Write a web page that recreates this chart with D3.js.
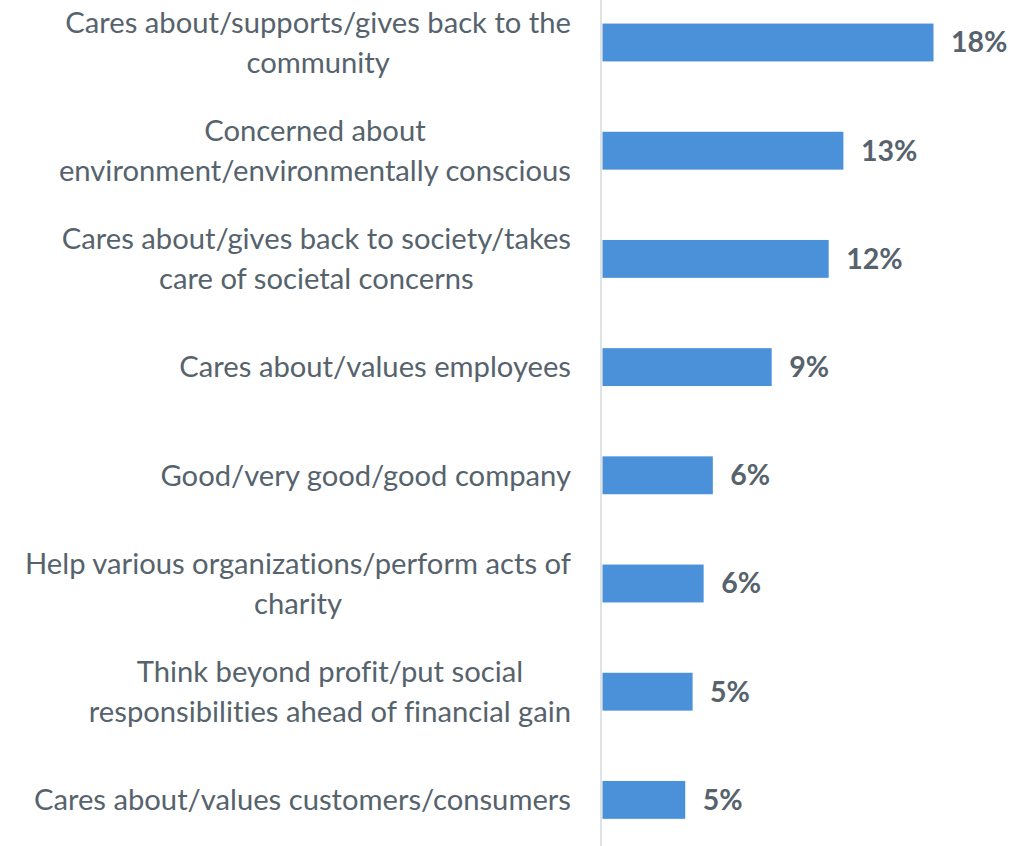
<!DOCTYPE html>
<html>
<head>
<meta charset="utf-8">
<script src="https://cdn.jsdelivr.net/npm/d3@7"></script>
<style>
  html, body { margin: 0; padding: 0; background: #ffffff; }
  svg { display: block; }
  text { font-variant-ligatures: none; }
</style>
</head>
<body>
<svg id="chart" width="1018" height="846"></svg>
<script>
// Category labels ("\n" marks where the label wraps)
const categories = [
  "Cares about/supports/gives back to the\ncommunity",
  "Concerned about\nenvironment/environmentally conscious",
  "Cares about/gives back to society/takes\ncare of societal concerns",
  "Cares about/values employees",
  "Good/very good/good company",
  "Help various organizations/perform acts of\ncharity",
  "Think beyond profit/put social\nresponsibilities ahead of financial gain",
  "Cares about/values customers/consumers"
];
// Share of mentions, percent
const values = [18.0, 13.1, 12.3, 9.2, 6.0, 5.5, 4.9, 4.5];

const svg = d3.select("#chart");
const W = 1018, H = 846;
const axisX = 602;
const labelRight = 571;
const textColor = "#56636d";
const barColor = "#4a91da";
const fontFamily = "Lato, 'Open Sans', sans-serif";
const labelSize = 29.2;
const valueSize = 28.5;

const data = categories.map((c, i) => ({ cat: c, v: values[i] }));

const x = d3.scaleLinear().domain([0, 18]).range([axisX, axisX + 331]);
const y = d3.scaleBand()
  .domain(categories)
  .range([-11.6, 854])
  .paddingInner(0.65)
  .paddingOuter(0.325);

// vertical category axis (line only)
const axis = svg.append("g")
  .attr("transform", `translate(${axisX - 1},0)`)
  .call(d3.axisLeft(y).tickSize(0).tickFormat(""));
axis.select(".domain").attr("d", `M0,0V${H}`).attr("stroke", "#dfe3e3").attr("stroke-width", 2);

// bars
svg.append("g").selectAll("rect")
  .data(data)
  .join("rect")
  .attr("x", x(0) + 0.5)
  .attr("y", d => y(d.cat))
  .attr("width", d => x(d.v) - x(0))
  .attr("height", y.bandwidth())
  .attr("fill", barColor);

// value labels
svg.append("g").selectAll("text")
  .data(data)
  .join("text")
  .attr("x", d => x(d.v) + 18)
  .attr("y", d => y(d.cat) + y.bandwidth() / 2 + valueSize * 0.35)
  .attr("font-family", fontFamily)
  .attr("font-weight", 700)
  .attr("font-size", valueSize)
  .attr("fill", textColor)
  .text(d => Math.round(d.v) + "%");

// category labels: lines centred on each other, block right-aligned
const lineGap = 40;
const labels = svg.append("g");
data.forEach(d => {
  const lines = d.cat.split("\n");
  const cy = y(d.cat) + y.bandwidth() / 2;
  const g = labels.append("g");
  const texts = lines.map((ln, j) =>
    g.append("text")
      .attr("y", cy + (j - (lines.length - 1) / 2) * lineGap + labelSize * 0.35)
      .attr("font-family", fontFamily)
      .attr("font-size", labelSize)
      .attr("fill", textColor)
      .attr("text-anchor", "middle")
      .text(ln)
  );
  const maxW = d3.max(texts, t => t.node().getComputedTextLength());
  texts.forEach(t => t.attr("x", labelRight - maxW / 2));
});
</script>
</body>
</html>
